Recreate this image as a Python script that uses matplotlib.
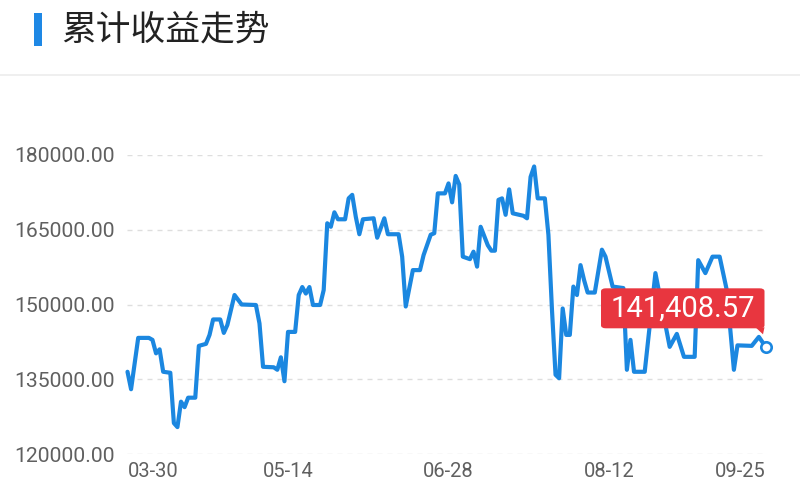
import matplotlib
matplotlib.use("Agg")
import matplotlib.pyplot as plt
from matplotlib.patches import FancyBboxPatch, Polygon, Rectangle
from matplotlib.lines import Line2D

# ---- data (day offset from 03-30, cumulative value) ----
days = [0, 1, 3, 6, 7, 8, 9, 10, 12, 13, 14, 15, 16, 17, 19, 20, 22, 23, 24, 26,
        27, 28, 30, 32, 36, 37, 38, 41, 42, 43, 44, 45, 47, 48, 49, 50, 51, 52, 54, 55,
        56, 57, 58, 59, 61, 62, 63, 64, 65, 66, 69, 70, 72, 73, 76, 77, 78, 80, 82, 83,
        85, 86, 87, 89, 90, 91, 92, 93, 94, 96, 97, 98, 99, 101, 102, 103, 104, 105, 106, 107,
        108, 111, 112, 113, 114, 115, 117, 118, 119, 120, 121, 122, 123, 124, 125, 126, 127, 128, 129, 131,
        133, 134, 136, 139, 140, 141, 142, 145, 148, 152, 154, 156, 159, 160, 162, 164, 166, 168, 170, 171,
        175, 177, 179]
values = [136500, 133000, 143300, 143300, 142900, 140200, 141000, 136500, 136300, 126200,
          125400, 130500, 129400, 131300, 131300, 141700, 142100, 143900, 147000, 147000,
          144300, 145900, 151900, 150000, 149900, 146200, 137500, 137400, 136900, 139400,
          134600, 144500, 144500, 151900, 153500, 152200, 153500, 149900, 149900, 152900,
          166300, 165600, 168500, 167100, 167100, 171300, 172000, 167600, 164100, 167100,
          167300, 163400, 167300, 164100, 164100, 159600, 149600, 156900, 156900, 159900,
          164000, 164300, 172300, 172300, 174300, 170500, 175800, 174100, 159600, 159100,
          160600, 157600, 165600, 161900, 160800, 160800, 171000, 171300, 168000, 173100,
          168300, 167800, 167300, 175600, 177700, 171300, 171300, 164000, 148900, 135900,
          135200, 149200, 143900, 143900, 153600, 151900, 157900, 154900, 152400, 152400,
          161000, 159600, 153600, 153300, 136900, 142900, 136500, 136500, 156300, 141500,
          144100, 139500, 139500, 158900, 156300, 159600, 159600, 152900, 136900, 141800,
          141700, 143500, 141408.57]

xtick_days = [0, 45, 90, 135, 179]
xtick_labels = ["03-30", "05-14", "06-28", "08-12", "09-25"]
yticks = [120000, 135000, 150000, 165000, 180000]
title = "累计收益走势"
last_label = "141,408.57"

BLUE = "#1b87e0"
RED = "#e8363f"
W, H = 800, 504

fig = plt.figure(figsize=(8, 5.04), dpi=100)
fig.patch.set_facecolor("white")

# header
fig.patches.append(Rectangle((34 / W, 1 - 46 / H), 8 / W, 33 / H, transform=fig.transFigure,
                             facecolor="#1e88e5", edgecolor="none"))
fig.text(61 / W, 1 - 30 / H, title, fontsize=25, color="#222222", va="center", ha="left",
         family=["Noto Sans CJK SC", "DejaVu Sans"])
fig.add_artist(Line2D([0, 1], [1 - 75 / H, 1 - 75 / H], transform=fig.transFigure,
                      color="#ececec", lw=1.2))

ax = fig.add_axes([127.5 / W, 50 / H, (766 - 127.5) / W, (454 - 155) / H])
ax.set_xlim(0, 179)
ax.set_ylim(120000, 180000)
for s in ax.spines.values():
    s.set_visible(False)

ax.set_yticks(yticks)
ax.set_yticklabels([f"{v:.2f}" for v in yticks])
ax.set_xticks(xtick_days)
ax.set_xticklabels(xtick_labels)
xl = ax.get_xticklabels()
xl[0].set_ha("left")
xl[-1].set_ha("right")
ax.tick_params(axis="both", length=0, colors="#606060")
ax.tick_params(axis="y", pad=9, labelsize=15.2)
ax.tick_params(axis="x", pad=6, labelsize=14.5)
for lab in ax.get_xticklabels() + ax.get_yticklabels():
    lab.set_family("Roboto")
    lab.set_color("#606060")

ax.grid(axis="y", color="#dedede", lw=1, linestyle=(0, (3.6, 3.6)))
ax.grid(axis="x", visible=False)

ax.plot(days, values, color=BLUE, lw=3.0, solid_joinstyle="round", solid_capstyle="round",
        zorder=3, clip_on=False)
ax.plot([days[-1]], [values[-1]], marker="o", ms=7.5, mfc="white", mec=BLUE, mew=1.9,
        zorder=5, clip_on=False)

# value label box anchored to last point
fig.canvas.draw()
px, py = ax.transData.transform((days[-1], values[-1]))
bl, br = px - 165, px - 1.5
bb, bt = py + 19, py + 59
box = FancyBboxPatch((bl / W, bb / H), (br - bl) / W, (bt - bb) / H,
                     boxstyle="round,pad=0,rounding_size=0.006", transform=fig.transFigure,
                     facecolor=RED, edgecolor="none", zorder=10)
fig.patches.append(box)
tail = Polygon([[(br - 9) / W, (bb + 1) / H], [br / W, (bb + 1) / H], [(br - 1.5) / W, (bb - 6) / H]],
               closed=True, transform=fig.transFigure, facecolor=RED, edgecolor="none", zorder=10)
fig.patches.append(tail)
fig.text((bl + br) / 2 / W, (bb + bt) / 2 / H, last_label, color="white", fontsize=21,
         ha="center", va="center", family="Roboto", zorder=11)

fig.savefig("out.png", dpi=100, facecolor="white")
